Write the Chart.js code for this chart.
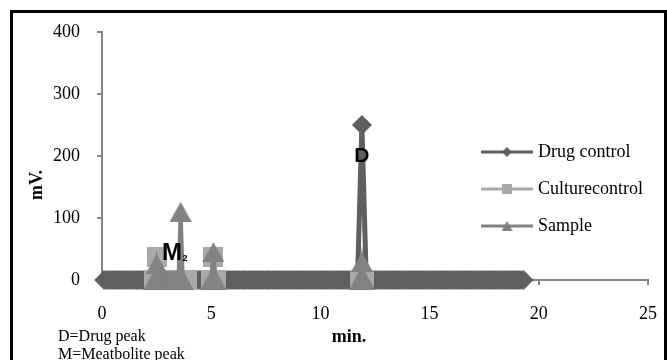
<!DOCTYPE html>
<html>
<head>
<meta charset="utf-8">
<script src="https://cdn.jsdelivr.net/npm/chart.js@4.4.1/dist/chart.umd.min.js"></script>
<style>
  html, body { margin: 0; padding: 0; background: #fff; }
  #wrap { position: relative; width: 667px; height: 360px; }
</style>
</head>
<body>
<div id="wrap"><canvas id="chromChart"></canvas></div>
<script>
// retention time (min.) and signal (mV.)
const drugTimes = [
  0.1, 0.2, 0.3, 0.4, 0.5, 0.6, 0.7, 0.8, 0.9, 1.0, 1.1, 1.2, 1.3, 1.4, 1.5, 1.6, 1.7, 1.8, 1.9, 2.0,
  2.1, 2.2, 2.3, 2.4, 2.5, 2.6, 2.7, 2.8, 2.9, 3.0, 3.1, 3.2, 3.3, 3.4, 3.5, 3.6, 3.7, 3.8, 3.9, 4.0,
  4.1, 4.2, 4.3, 4.4, 4.5, 4.6, 4.7, 4.8, 4.9, 5.0, 5.1, 5.2, 5.3, 5.4, 5.5, 5.6, 5.7, 5.8, 5.9, 6.0,
  6.1, 6.2, 6.3, 6.4, 6.5, 6.6, 6.7, 6.8, 6.9, 7.0, 7.1, 7.2, 7.3, 7.4, 7.5, 7.6, 7.7, 7.8, 7.9, 8.0,
  8.1, 8.2, 8.3, 8.4, 8.5, 8.6, 8.7, 8.8, 8.9, 9.0, 9.1, 9.2, 9.3, 9.4, 9.5, 9.6, 9.7, 9.8, 9.9, 10.0,
  10.1, 10.2, 10.3, 10.4, 10.5, 10.6, 10.7, 10.8, 10.9, 11.0, 11.1, 11.2, 11.3, 11.4, 11.5, 11.6, 11.7, 11.9,
  12.1, 12.2, 12.3, 12.4, 12.5, 12.6, 12.7, 12.8, 12.9, 13.0, 13.1, 13.2, 13.3, 13.4, 13.5, 13.6, 13.7, 13.8, 13.9, 14.0,
  14.1, 14.2, 14.3, 14.4, 14.5, 14.6, 14.7, 14.8, 14.9, 15.0, 15.1, 15.2, 15.3, 15.4, 15.5, 15.6, 15.7, 15.8, 15.9, 16.0,
  16.1, 16.2, 16.3, 16.4, 16.5, 16.6, 16.7, 16.8, 16.9, 17.0, 17.1, 17.2, 17.3, 17.4, 17.5, 17.6, 17.7, 17.8, 17.9, 18.0,
  18.1, 18.2, 18.3, 18.4, 18.5, 18.6, 18.7, 18.8, 18.9, 19.0, 19.1, 19.2, 19.3
];
const drugMv = [
  0, 0, 0, 0, 0, 0, 0, 0, 0, 0, 0, 0, 0, 0, 0, 0, 0, 0, 0, 0,
  0, 0, 0, 0, 0, 0, 0, 0, 0, 0, 0, 0, 0, 0, 0, 0, 0, 0, 0, 0,
  0, 0, 0, 0, 0, 0, 0, 0, 0, 0, 0, 0, 0, 0, 0, 0, 0, 0, 0, 0,
  0, 0, 0, 0, 0, 0, 0, 0, 0, 0, 0, 0, 0, 0, 0, 0, 0, 0, 0, 0,
  0, 0, 0, 0, 0, 0, 0, 0, 0, 0, 0, 0, 0, 0, 0, 0, 0, 0, 0, 0,
  0, 0, 0, 0, 0, 0, 0, 0, 0, 0, 0, 0, 0, 0, 0, 0, 0, 250,
  0, 0, 0, 0, 0, 0, 0, 0, 0, 0, 0, 0, 0, 0, 0, 0, 0, 0, 0, 0,
  0, 0, 0, 0, 0, 0, 0, 0, 0, 0, 0, 0, 0, 0, 0, 0, 0, 0, 0, 0,
  0, 0, 0, 0, 0, 0, 0, 0, 0, 0, 0, 0, 0, 0, 0, 0, 0, 0, 0, 0,
  0, 0, 0, 0, 0, 0, 0, 0, 0, 0, 0, 0, 0
];
const cultureTimes = [2.4, 2.5, 2.6, 2.7, 2.8, 2.9, 3.0, 3.1, 3.2, 3.3, 3.4, 3.5, 3.6, 3.7, 3.8, 3.9, null,
  5.0, 5.1, 5.2, null, 11.8, 11.9, 12.0];
const cultureMv = [0, 37, 0, 0, 0, 0, 0, 0, 0, 0, 0, 0, 0, 0, 0, 0, null,
  0, 37, 0, null, 0, 0, 0];
const sampleTimes = [2.4, 2.5, 2.6, 2.7, 2.8, 2.9, 3.0, 3.1, 3.2, 3.3, 3.4, 3.5, 3.6, 3.7, null,
  5.0, 5.1, 5.2, null, 11.8, 11.9, 12.0];
const sampleMv = [0, 26, 0, 0, 0, 0, 0, 0, 0, 0, 0, 0, 110, 0, null,
  0, 45, 0, null, 0, 29, 0];

const seriesNames = ["Drug control", "Culturecontrol", "Sample"];
const seriesColors = ["#5f5f5f", "#a9a9a9", "#828282"];
const xTicks = [0, 5, 10, 15, 20, 25];
const yTicks = [0, 100, 200, 300, 400];
const notes = ["D=Drug peak", "M=Meatbolite peak"];

function makeMarker(shape, w, h, color) {
  const c = document.createElement("canvas");
  c.width = w;
  c.height = h;
  const g = c.getContext("2d");
  g.fillStyle = color;
  g.beginPath();
  if (shape == "diamond") {
    g.moveTo(w / 2, 0); g.lineTo(w, h / 2); g.lineTo(w / 2, h); g.lineTo(0, h / 2);
  } else if (shape == "square") {
    g.rect(0, 0, w, h);
  } else {
    g.moveTo(w / 2, 0); g.lineTo(w, h); g.lineTo(0, h);
  }
  g.closePath();
  g.fill();
  return c;
}

const bigMarkers = [
  makeMarker("diamond", 20, 20, seriesColors[0]),
  makeMarker("square", 20, 20, seriesColors[1]),
  makeMarker("triangle", 22, 20, seriesColors[2])
];
const smallMarkers = [
  makeMarker("diamond", 10, 10, seriesColors[0]),
  makeMarker("square", 10, 10, seriesColors[1]),
  makeMarker("triangle", 11, 10, seriesColors[2])
];

function toPoints(times, values) {
  return times.map((t, i) => ({ x: t, y: values[i] }));
}

const serif = "'Liberation Serif', 'Times New Roman', serif";

const extras = {
  id: "extras",
  afterDatasetsDraw(chart) {
    const ctx = chart.ctx;
    const xs = chart.scales.x;
    const ys = chart.scales.y;
    ctx.save();
    ctx.fillStyle = "#000";
    ctx.textAlign = "center";
    ctx.textBaseline = "middle";
    // peak letters
    ctx.font = "bold 21px 'Liberation Sans', Arial, sans-serif";
    ctx.fillText("D", xs.getPixelForValue(11.9), ys.getPixelForValue(199));
    ctx.font = "bold 24px 'Liberation Sans', Arial, sans-serif";
    const mx = xs.getPixelForValue(3.2);
    const my = ys.getPixelForValue(43);
    ctx.fillText("M", mx, my);
    const mw = ctx.measureText("M").width;
    ctx.font = "bold 9px 'Liberation Sans', Arial, sans-serif";
    ctx.fillText("2", mx + mw / 2 + 3, my + 5);

    // legend
    const rows = [152, 189, 226];
    chart.data.datasets.forEach((ds, i) => {
      const y = rows[i];
      ctx.strokeStyle = ds.borderColor;
      ctx.lineWidth = 3;
      ctx.beginPath();
      ctx.moveTo(481, y);
      ctx.lineTo(533, y);
      ctx.stroke();
      const m = smallMarkers[i];
      ctx.drawImage(m, 507 - m.width / 2, y - m.height / 2);
      ctx.fillStyle = "#000";
      ctx.textAlign = "left";
      ctx.font = "18px " + serif;
      ctx.fillText(ds.label, 538, y);
    });

    // axis titles
    ctx.font = "bold 18px " + serif;
    ctx.textAlign = "center";
    ctx.textBaseline = "alphabetic";
    ctx.fillText("min.", 349, 342);
    ctx.save();
    ctx.translate(42, 185);
    ctx.rotate(-Math.PI / 2);
    ctx.fillText("mV.", 0, 0);
    ctx.restore();

    // notes under the axis
    ctx.font = "16px " + serif;
    ctx.textAlign = "left";
    ctx.fillText(notes[0], 58, 341);
    ctx.fillText(notes[1], 58, 359);

    // frame
    ctx.strokeStyle = "#000";
    ctx.lineWidth = 3;
    ctx.strokeRect(11.5, 11.5, 654, 400);
    ctx.restore();
  }
};

new Chart(document.getElementById("chromChart"), {
  type: "scatter",
  data: {
    datasets: [
      {
        label: seriesNames[0],
        data: toPoints(drugTimes, drugMv),
        showLine: true,
        borderColor: seriesColors[0],
        backgroundColor: seriesColors[0],
        borderWidth: 5,
        pointStyle: bigMarkers[0],
        clip: false,
        order: 3,
      },
      {
        label: seriesNames[1],
        data: toPoints(cultureTimes, cultureMv),
        showLine: true,
        borderColor: seriesColors[1],
        backgroundColor: seriesColors[1],
        borderWidth: 4,
        pointStyle: bigMarkers[1],
        clip: false,
        order: 2,
      },
      {
        label: seriesNames[2],
        data: toPoints(sampleTimes, sampleMv),
        showLine: true,
        borderColor: seriesColors[2],
        backgroundColor: seriesColors[2],
        borderWidth: 4,
        pointStyle: bigMarkers[2],
        clip: false,
        order: 1,
      },
    ],
  },
  options: {
    responsive: true,
    maintainAspectRatio: false,
    animation: false,
    events: [],
    layout: { padding: { top: 32, right: 19, bottom: 0, left: 0 } },
    plugins: {
      legend: { display: false },
      tooltip: { enabled: false },
    },
    scales: {
      x: {
        type: "linear",
        min: 0,
        max: 25,
        afterFit: (scale) => {
          scale.height = 80;
          scale.paddingLeft = 0;
          scale.paddingRight = 0;
        },
        afterBuildTicks: (scale) => { scale.ticks = xTicks.map((v) => ({ value: v })); },
        border: { display: true, color: "#868686", width: 2 },
        grid: { drawOnChartArea: false, drawTicks: true, tickLength: 5, color: "#868686", lineWidth: 2 },
        ticks: { color: "#000", font: { family: serif, size: 18 }, padding: 18, maxRotation: 0 },
      },
      y: {
        type: "linear",
        min: 0,
        max: 400,
        afterFit: (scale) => { scale.width = 102; },
        afterBuildTicks: (scale) => { scale.ticks = yTicks.map((v) => ({ value: v })); },
        border: { display: true, color: "#868686", width: 2 },
        grid: { drawOnChartArea: false, drawTicks: true, tickLength: 5, color: "#868686", lineWidth: 2 },
        ticks: { color: "#000", font: { family: serif, size: 18 }, padding: 17 },
      },
    },
  },
  plugins: [extras],
});
</script>
</body>
</html>
